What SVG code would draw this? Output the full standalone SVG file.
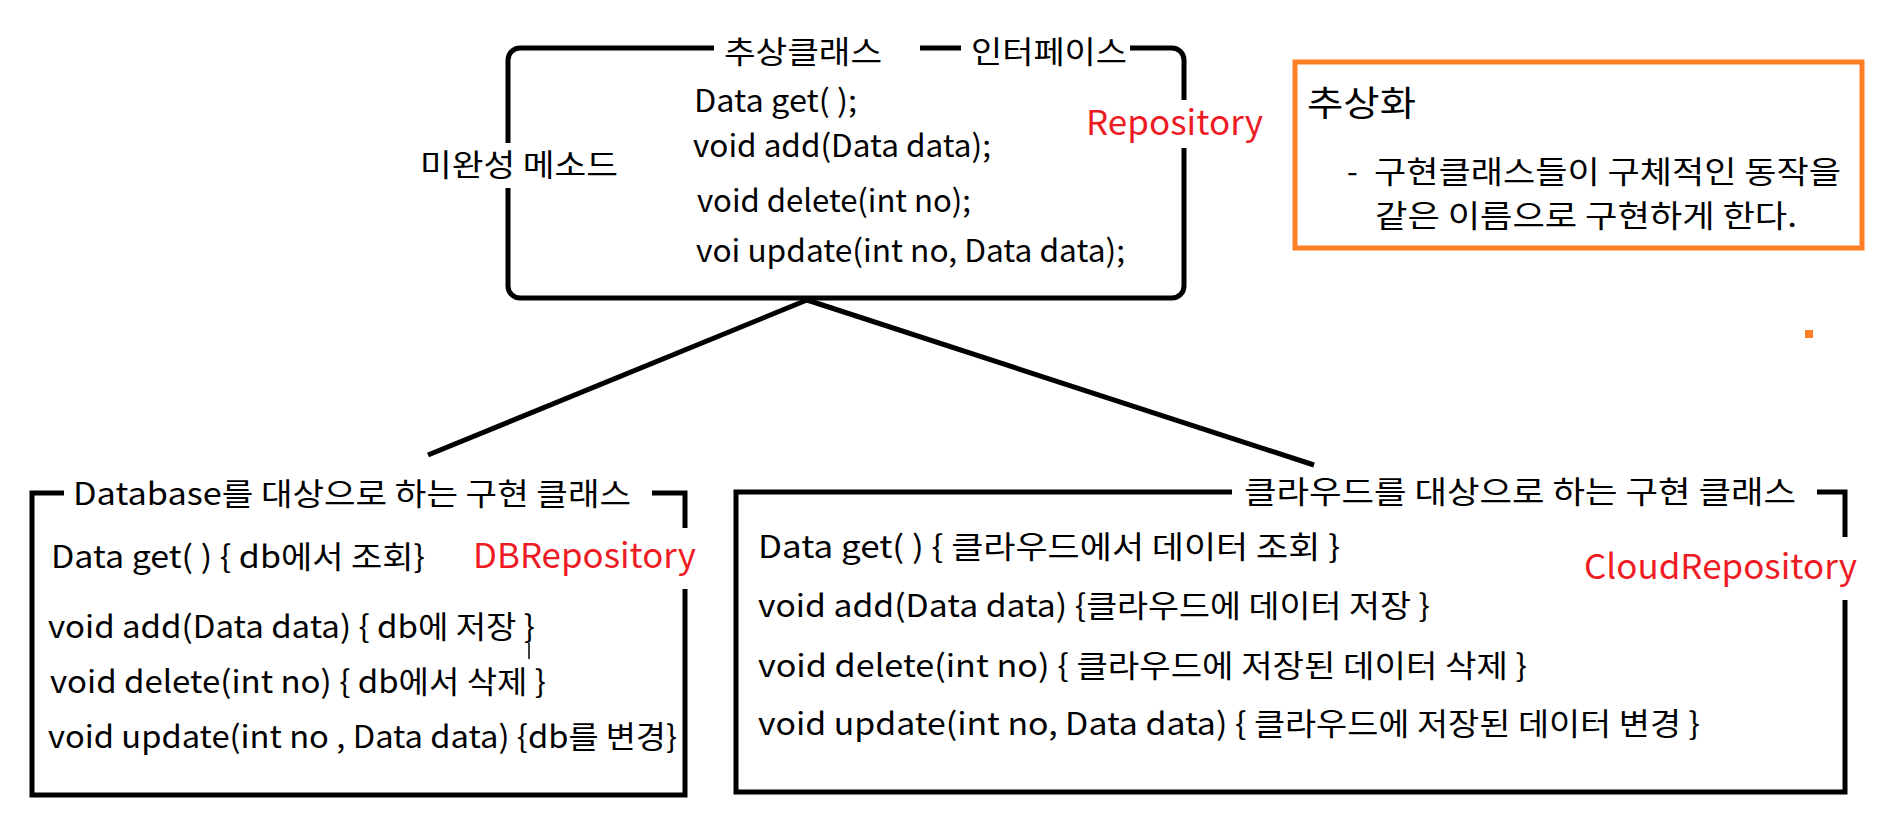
<svg xmlns="http://www.w3.org/2000/svg" width="1898" height="840" viewBox="0 0 1898 840">
<style>
  text { font-family: "Noto Sans CJK KR", "Noto Sans", sans-serif; font-size: 31px; fill: #000; }
  .red { fill: #ED1C24; font-size: 34px; }
  .frame { fill: none; stroke: #000; stroke-width: 5; stroke-linejoin: miter; }
  .conn { stroke: #000; stroke-width: 5; fill: none; }
</style>
<rect width="1898" height="840" fill="#fff"/>
<g id="connectors">
  <line class="conn" x1="807" y1="300" x2="428" y2="455"/>
  <line class="conn" x1="807" y1="300" x2="1314" y2="465"/>
</g>
<g id="repository">
  <path class="frame" d="M714,48 H520 A12,12 0 0 0 508,60 V143 M508,188 V286 A12,12 0 0 0 520,298 H1172 A12,12 0 0 0 1184,286 V148 M1184,100 V60 A12,12 0 0 0 1172,48 H1130 M961,48 H920"/>
  <text x="724" y="63" textLength="158" lengthAdjust="spacingAndGlyphs">추상클래스</text>
  <text x="971" y="63" textLength="156" lengthAdjust="spacingAndGlyphs">인터페이스</text>
  <text x="420" y="176" textLength="198" lengthAdjust="spacingAndGlyphs">미완성 메소드</text>
  <text x="694" y="112" textLength="163" lengthAdjust="spacingAndGlyphs">Data get( );</text>
  <text x="693" y="157" textLength="298" lengthAdjust="spacingAndGlyphs">void add(Data data);</text>
  <text x="697" y="212" textLength="274" lengthAdjust="spacingAndGlyphs">void delete(int no);</text>
  <text x="696" y="262" textLength="429" lengthAdjust="spacingAndGlyphs">voi update(int no, Data data);</text>
  <text class="red" x="1086" y="135" textLength="177" lengthAdjust="spacingAndGlyphs">Repository</text>
</g>
<g id="note">
  <rect x="1295" y="62" width="567" height="186" fill="none" stroke="#FF7F27" stroke-width="5"/>
  <text x="1307" y="116" style="font-size:35px" textLength="109" lengthAdjust="spacingAndGlyphs">추상화</text>
  <text x="1347" y="183">-</text>
  <text x="1374" y="183" textLength="467" lengthAdjust="spacingAndGlyphs">구현클래스들이 구체적인 동작을</text>
  <text x="1375" y="227" textLength="422" lengthAdjust="spacingAndGlyphs">같은 이름으로 구현하게 한다.</text>
  <rect x="1805" y="330" width="8" height="8" fill="#FF7F27"/>
</g>
<g id="dbrepository">
  <path class="frame" d="M64,493 H32 V795 H685 V589 M652,493 H685 V528"/>
  <text x="73" y="505" textLength="558" lengthAdjust="spacingAndGlyphs">Database를 대상으로 하는 구현 클래스</text>
  <text x="51" y="568" textLength="374" lengthAdjust="spacingAndGlyphs">Data get( ) { db에서 조회}</text>
  <text class="red" x="473" y="568" textLength="223" lengthAdjust="spacingAndGlyphs">DBRepository</text>
  <text x="48" y="638" textLength="487" lengthAdjust="spacingAndGlyphs">void add(Data data) { db에 저장 }</text>
  <line x1="529" y1="643" x2="529" y2="659" stroke="#000" stroke-width="1.5"/>
  <text x="50" y="693" textLength="496" lengthAdjust="spacingAndGlyphs">void delete(int no) { db에서 삭제 }</text>
  <text x="48" y="748" textLength="629" lengthAdjust="spacingAndGlyphs">void update(int no , Data data) {db를 변경}</text>
</g>
<g id="cloudrepository">
  <path class="frame" d="M1232,492 H736 V792 H1845 V600 M1817,492 H1845 V537"/>
  <text x="1244" y="503" textLength="552" lengthAdjust="spacingAndGlyphs">클라우드를 대상으로 하는 구현 클래스</text>
  <text x="758" y="558" textLength="582" lengthAdjust="spacingAndGlyphs">Data get( ) { 클라우드에서 데이터 조회 }</text>
  <text x="758" y="617" textLength="672" lengthAdjust="spacingAndGlyphs">void add(Data data) {클라우드에 데이터 저장 }</text>
  <text x="758" y="677" textLength="769" lengthAdjust="spacingAndGlyphs">void delete(int no) { 클라우드에 저장된 데이터 삭제 }</text>
  <text x="758" y="735" textLength="942" lengthAdjust="spacingAndGlyphs">void update(int no, Data data) { 클라우드에 저장된 데이터 변경 }</text>
  <text class="red" x="1584" y="579" textLength="273" lengthAdjust="spacingAndGlyphs">CloudRepository</text>
</g>
</svg>
